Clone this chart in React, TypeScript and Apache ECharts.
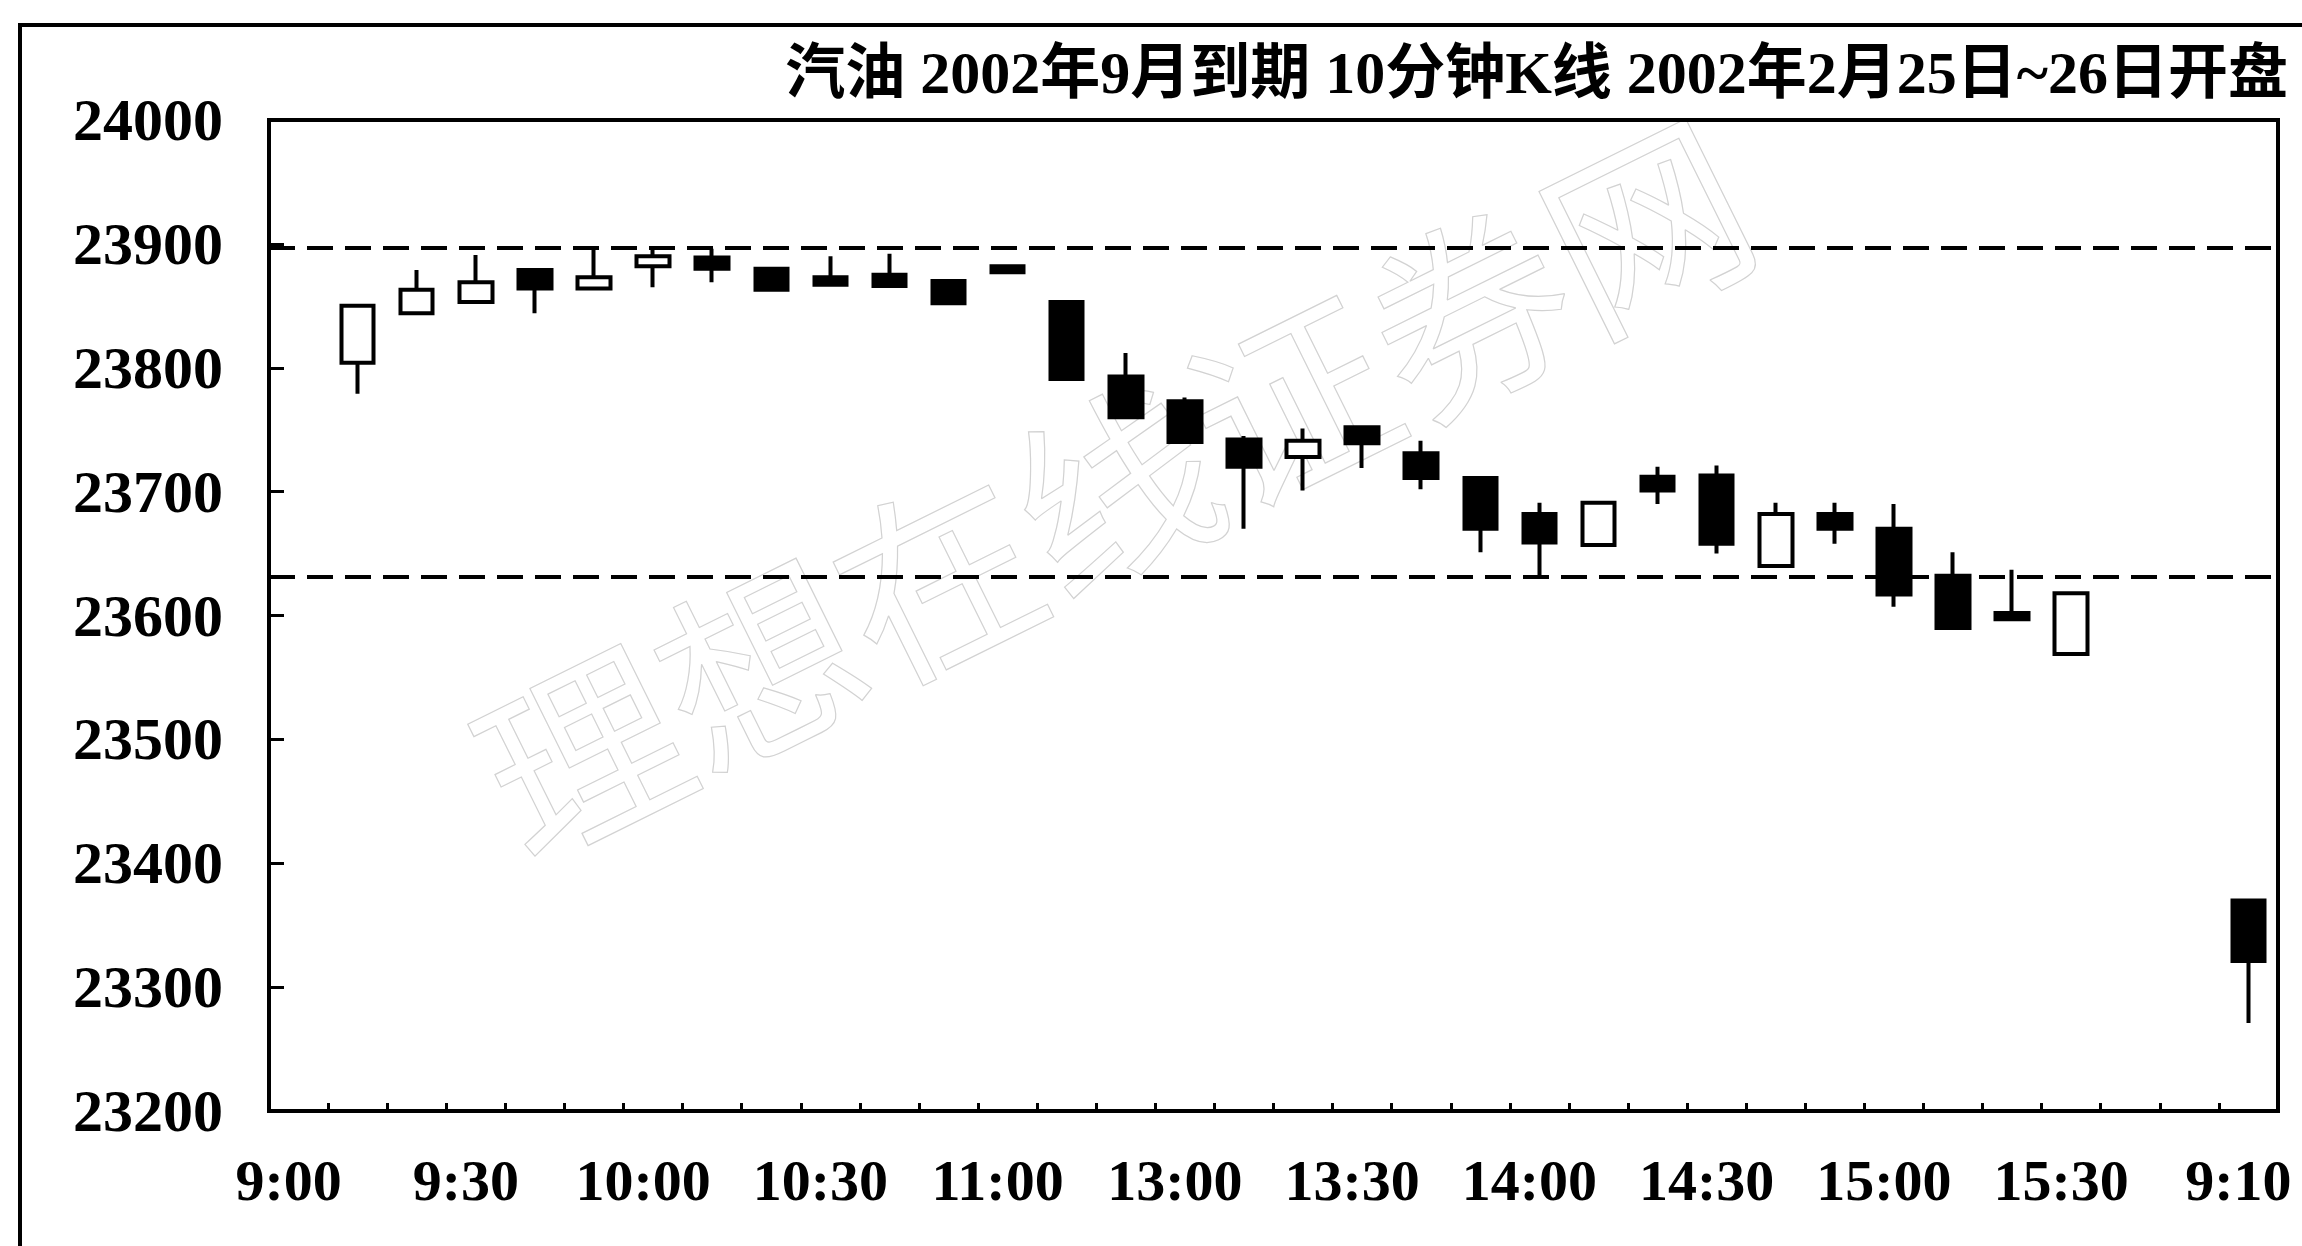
import React, { useEffect, useRef } from "react";
import * as echarts from "echarts";

// ---- text ----
const TITLE = "汽油 2002年9月到期 10分钟K线 2002年2月25日~26日开盘";
const WATERMARK = "理想在线证券网";

// ---- categories: 10-minute bars (TOCOM session), one slot per bar ----
const categories = [
  "9:00", "9:10", "9:20", "9:30", "9:40", "9:50",
  "10:00", "10:10", "10:20", "10:30", "10:40", "10:50",
  "11:00", "12:40", "12:50", "13:00", "13:10", "13:20",
  "13:30", "13:40", "13:50", "14:00", "14:10", "14:20",
  "14:30", "14:40", "14:50", "15:00", "15:10", "15:20",
  "15:30", "", "", "9:10",
];

// ---- OHLC values (null = no bar in that slot) ----
const opens = [
  null, 23804, 23844, 23853, 23879, 23864,
  23882, 23889, 23880, 23873, 23875, 23870,
  23882, 23853, 23793, 23773, 23742, 23728,
  23752, 23731, 23711, 23682, 23657, 23712,
  23713, 23640, 23682, 23670, 23632, 23602,
  23569, null, null, 23370,
];
const closes = [
  null, 23850, 23863, 23869, 23864, 23873,
  23890, 23880, 23863, 23867, 23866, 23852,
  23877, 23791, 23760, 23740, 23720, 23741,
  23739, 23711, 23670, 23659, 23691, 23701,
  23658, 23682, 23670, 23617, 23590, 23597,
  23618, null, null, 23321,
];
const lows = [
  null, 23779, 23843, 23852, 23844, 23864,
  23865, 23869, 23863, 23866, 23866, 23852,
  23877, 23791, 23760, 23740, 23670, 23701,
  23719, 23702, 23651, 23631, 23657, 23690,
  23650, 23640, 23658, 23607, 23590, 23597,
  23569, null, null, 23271,
];
const highs = [
  null, 23850, 23879, 23891, 23879, 23897,
  23897, 23896, 23880, 23890, 23892, 23870,
  23882, 23853, 23812, 23776, 23745, 23751,
  23752, 23741, 23711, 23691, 23691, 23720,
  23721, 23691, 23691, 23690, 23651, 23637,
  23618, null, null, 23370,
];

// ---- reference levels (dashed) ----
const levels = [23897, 23631];

// ---- y axis ----
const Y_MIN = 23200;
const Y_MAX = 24000;
const Y_STEP = 100;

const NUM_FONT = "'Liberation Serif', 'Times New Roman', serif";
const TITLE_FONT = "'Liberation Serif', 'Noto Sans CJK SC', serif";

export default function App() {
  const ref = useRef<HTMLDivElement>(null);

  useEffect(() => {
    if (!ref.current) return;
    const chart = echarts.init(ref.current, null, { renderer: "svg" });

    const data = categories.map((_, i) =>
      opens[i] == null ? "-" : [opens[i], closes[i], lows[i], highs[i]]
    );

    chart.setOption({
      animation: false,
      backgroundColor: "#ffffff",
      title: {
        text: TITLE,
        right: 14,
        top: 43,
        padding: 0,
        textStyle: {
          fontFamily: TITLE_FONT,
          fontSize: 60,
          fontWeight: "bold",
          color: "#000",
        },
      },
      graphic: [
        {
          type: "text",
          silent: true,
          z: -10,
          x: 1110,
          y: 480,
          rotation: 0.46,
          style: {
            text: WATERMARK,
            fontSize: 198,
            fontFamily: "'Noto Sans CJK SC', sans-serif",
            fill: "none",
            stroke: "#d2d2d2",
            lineWidth: 1.2,
            align: "center",
            verticalAlign: "middle",
          },
        },
        {
          type: "rect",
          silent: true,
          shape: { x: 20, y: 25, width: 2400, height: 1400 },
          style: { fill: "none", stroke: "#000", lineWidth: 4 },
        },
      ],
      grid: {
        left: 269,
        top: 120,
        right: 24,
        bottom: 135,
        show: true,
        borderColor: "#000",
        borderWidth: 4,
        backgroundColor: "transparent",
      },
      xAxis: {
        type: "category",
        data: categories,
        boundaryGap: true,
        axisLine: { show: true, lineStyle: { color: "#000", width: 4 } },
        axisTick: {
          show: true,
          inside: true,
          interval: 0,
          length: 8,
          lineStyle: { color: "#000", width: 3 },
        },
        axisLabel: {
          interval: 2,
          margin: 40,
          padding: [0, 20, 0, 0],
          color: "#000",
          fontFamily: NUM_FONT,
          fontWeight: "bold",
          fontSize: 58,
        },
        splitLine: { show: false },
      },
      yAxis: {
        type: "value",
        min: Y_MIN,
        max: Y_MAX,
        interval: Y_STEP,
        axisLine: { show: true, lineStyle: { color: "#000", width: 4 } },
        axisTick: {
          show: true,
          inside: true,
          length: 15,
          lineStyle: { color: "#000", width: 3 },
        },
        axisLabel: {
          margin: 46,
          color: "#000",
          fontFamily: NUM_FONT,
          fontWeight: "bold",
          fontSize: 60,
          formatter: (v: number) => String(v),
        },
        splitLine: { show: false },
      },
      series: [
        {
          type: "candlestick",
          data,
          barWidth: 33,
          itemStyle: {
            color: "#ffffff",
            color0: "#000000",
            borderColor: "#000000",
            borderColor0: "#000000",
            borderWidth: 4,
          },
          markLine: {
            silent: true,
            symbol: ["none", "none"],
            label: { show: false },
            lineStyle: { color: "#000", width: 4, type: [26, 12] },
            data: levels.map((v) => ({ yAxis: v })),
          },
        },
      ],
    });

    return () => chart.dispose();
  }, []);

  return (
    <div
      ref={ref}
      style={{
        position: "absolute",
        left: 0,
        top: 0,
        width: 2302,
        height: 1246,
        background: "#fff",
      }}
    />
  );
}
